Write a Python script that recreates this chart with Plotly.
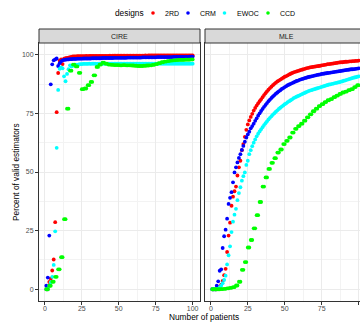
import plotly.graph_objects as go

W, H = 360, 322

patients = list(range(1, 101))
designs = ["2RD", "CRM", "EWOC", "CCD"]
colors = ["#FF0000", "#0000FF", "#00FFFF", "#00FF00"]

# ---- CIRE panel ----
cire_2rd = [0, 0, 3.1, 4.5, 8.0, 12.7, 28.6, 75.5, 92.2, 97.5,
            98.0, 96.0, 98.3, 98.5, 98.6, 98.8, 99.0, 99.1, 99.3, 99.3,
            99.3, 99.4, 99.4, 99.4, 99.4, 99.4, 99.4, 99.5, 99.4, 99.5,
            99.5, 99.5, 99.5, 99.5, 99.5, 99.5, 99.5, 99.5, 99.5, 99.5,
            99.5, 99.5, 99.5, 99.6, 99.5, 99.6, 99.6, 99.6, 99.6, 99.6,
            99.6, 99.6, 99.6, 99.6, 99.6, 99.6, 99.6, 99.6, 99.6, 99.6,
            99.6, 99.6, 99.6, 99.6, 99.6, 99.6, 99.6, 99.7, 99.6, 99.7,
            99.7, 99.7, 99.7, 99.7, 99.7, 99.7, 99.7, 99.7, 99.7, 99.7,
            99.7, 99.7, 99.7, 99.7, 99.7, 99.7, 99.7, 99.7, 99.7, 99.7,
            99.7, 99.7, 99.7, 99.7, 99.7, 99.7, 99.7, 99.7, 99.7, 99.7]
cire_crm = [1.5, 5.0, 22.9, 87.4, 95.9, 97.6, 98.0, 98.4, 95.2, 96.4,
            97.2, 97.6, 97.8, 97.9, 98.0, 98.0, 98.1, 98.1, 98.2, 98.2,
            98.2, 98.3, 98.3, 98.3, 98.3, 98.4, 98.4, 98.4, 98.4, 98.4,
            98.4, 98.5, 98.5, 98.5, 98.5, 98.5, 98.5, 98.5, 98.6, 98.6,
            98.6, 98.6, 98.6, 98.6, 98.6, 98.6, 98.7, 98.7, 98.7, 98.7,
            98.7, 98.7, 98.7, 98.7, 98.7, 98.8, 98.8, 98.8, 98.8, 98.8,
            98.8, 98.8, 98.8, 98.8, 98.8, 98.9, 98.9, 98.9, 98.9, 98.9,
            98.9, 98.9, 98.9, 98.9, 98.9, 99.0, 99.0, 99.0, 99.0, 99.0,
            99.0, 99.0, 99.0, 99.0, 99.0, 99.0, 99.1, 99.1, 99.1, 99.1,
            99.1, 99.1, 99.1, 99.1, 99.1, 99.1, 99.1, 99.2, 99.2, 99.2]
cire_ewoc = [0, 0, 1.5, 3.0, 5.3, 10.4, 24.7, 60.3, 85.0, 94.0,
             94.6, 94.2, 90.8, 88.7, 91.8, 93.8, 95.5, 95.0, 95.3, 95.6,
             95.8, 95.7, 95.9, 96.0, 96.0, 96.1, 96.1, 96.1, 96.1, 96.2,
             96.1, 96.2, 96.2, 96.2, 96.1, 96.2, 96.2, 96.2, 96.2, 96.2,
             96.2, 96.2, 96.2, 96.2, 96.2, 96.2, 96.2, 96.2, 96.2, 96.2,
             96.2, 96.2, 96.2, 96.2, 96.2, 96.2, 96.2, 96.2, 96.2, 96.2,
             96.2, 96.2, 96.2, 96.2, 96.2, 96.2, 96.2, 96.2, 96.2, 96.2,
             96.2, 96.2, 96.2, 96.2, 96.2, 96.2, 96.2, 96.2, 96.2, 96.2,
             96.2, 96.2, 96.2, 96.2, 96.2, 96.2, 96.2, 96.2, 96.2, 96.2,
             96.2, 96.2, 96.2, 96.2, 96.2, 96.2, 96.2, 96.2, 96.2, 96.2]
cire_ccd = [0, 0, 1.5, 1.5, 3.2, 3.2, 5.3, 5.3, 8.5, 8.5,
            13.7, 13.7, 29.9, 29.9, 77.0, 77.0, 93.2, 93.2, 95.8, 95.8,
            95.0, 95.0, 92.3, 92.3, 85.3, 85.3, 85.6, 85.6, 87.0, 87.0,
            88.4, 88.4, 91.2, 91.2, 94.8, 94.8, 95.8, 95.8, 96.6, 96.6,
            96.2, 96.2, 95.8, 95.8, 95.7, 95.7, 95.6, 95.6, 95.6, 95.6,
            95.5, 95.5, 95.6, 95.6, 95.5, 95.5, 95.5, 95.5, 95.4, 95.4,
            95.3, 95.3, 95.2, 95.2, 95.2, 95.2, 95.3, 95.3, 95.4, 95.4,
            95.5, 95.5, 95.7, 95.7, 96.0, 96.0, 96.4, 96.4, 96.8, 96.8,
            97.1, 97.1, 97.3, 97.3, 97.5, 97.5, 97.6, 97.6, 97.7, 97.7,
            97.8, 97.8, 97.8, 97.8, 97.9, 97.9, 97.9, 97.9, 98.0, 98.0]

# ---- MLE panel ----
mle_2rd = [0, 0, 0, 0, 0.4, 1.0, 2.0, 3.6, 6.0, 8.7,
           15.9, 22.9, 28.4, 35.6, 39.5, 41.8, 43.8, 48.5, 52.0, 54.8,
           59.3, 61.9, 65.0, 68.0, 70.3, 72.0, 73.5, 74.8, 76.2, 77.3,
           78.3, 79.3, 80.2, 81.0, 81.9, 82.8, 83.6, 84.4, 85.1, 85.8,
           86.4, 87.0, 87.6, 88.1, 88.6, 89.0, 89.4, 89.8, 90.2, 90.6,
           90.9, 91.2, 91.6, 91.9, 92.2, 92.5, 92.7, 92.9, 93.1, 93.3,
           93.5, 93.7, 93.9, 94.1, 94.3, 94.4, 94.6, 94.7, 94.8, 94.9,
           95.0, 95.1, 95.2, 95.3, 95.5, 95.6, 95.7, 95.8, 96.0, 96.0,
           96.1, 96.2, 96.3, 96.4, 96.5, 96.6, 96.7, 96.8, 96.8, 96.9,
           97.0, 97.0, 97.1, 97.2, 97.2, 97.3, 97.3, 97.4, 97.4, 97.5]
mle_crm = [0, 0, 0, 1.5, 3.4, 7.9, 8.5, 17.6, 22.6, 25.4,
           30.1, 36.4, 39.0, 41.4, 45.6, 49.8, 52.0, 54.1, 56.0, 57.6,
           59.4, 61.1, 62.9, 64.7, 66.0, 67.2, 68.6, 69.6, 70.6, 71.8,
           72.9, 74.0, 75.0, 76.0, 76.9, 77.8, 78.6, 79.4, 80.2, 80.9,
           81.6, 82.2, 82.8, 83.4, 83.9, 84.4, 84.9, 85.4, 85.8, 86.2,
           86.6, 87.0, 87.3, 87.6, 87.9, 88.2, 88.5, 88.8, 89.0, 89.3,
           89.5, 89.7, 89.9, 90.1, 90.3, 90.5, 90.6, 90.8, 90.9, 91.1,
           91.2, 91.4, 91.5, 91.6, 91.8, 91.9, 92.0, 92.1, 92.2, 92.3,
           92.4, 92.5, 92.6, 92.7, 92.8, 92.9, 93.0, 93.1, 93.2, 93.3,
           93.4, 93.5, 93.6, 93.7, 93.8, 93.8, 93.9, 94.0, 94.1, 94.2]
mle_ewoc = [0, 0, 0, 0, 0.3, 0.8, 1.5, 2.6, 4.0, 5.8,
            10.6, 14.5, 18.3, 24.4, 28.8, 31.8, 34.3, 38.0, 41.0, 43.5,
            46.3, 48.2, 49.8, 53.0, 54.8, 57.6, 59.3, 61.0, 62.5, 63.9,
            65.2, 66.3, 67.3, 68.2, 69.1, 70.0, 70.8, 71.6, 72.4, 73.1,
            73.8, 74.5, 75.1, 75.7, 76.3, 76.9, 77.4, 77.9, 78.4, 78.9,
            79.3, 79.8, 80.2, 80.6, 81.0, 81.5, 81.8, 82.1, 82.4, 82.7,
            83.0, 83.3, 83.6, 83.9, 84.2, 84.5, 84.7, 84.9, 85.1, 85.3,
            85.5, 85.7, 85.9, 86.1, 86.3, 86.5, 86.7, 86.9, 87.1, 87.3,
            87.4, 87.6, 87.7, 87.9, 88.0, 88.2, 88.3, 88.5, 88.7, 88.9,
            89.1, 89.3, 89.5, 89.7, 89.9, 90.1, 90.3, 90.4, 90.6, 90.8]
mle_ccd = [0, 0, 0, 0, 0, 0, 0.1, 0.1, 0.2, 0.2,
           0.4, 0.4, 0.6, 0.6, 0.9, 0.9, 1.6, 1.6, 3.2, 3.2,
           8.3, 8.3, 11.6, 11.6, 17.8, 17.8, 21.0, 21.0, 26.0, 26.0,
           31.6, 31.6, 37.2, 37.2, 43.8, 43.8, 47.7, 47.7, 51.3, 51.3,
           53.9, 53.9, 55.9, 55.9, 58.3, 58.3, 59.6, 59.6, 61.9, 61.9,
           63.3, 63.3, 64.7, 64.7, 66.8, 66.8, 68.4, 68.4, 69.6, 69.6,
           70.6, 70.6, 71.9, 71.9, 73.3, 73.3, 74.6, 74.6, 75.9, 75.9,
           77.0, 77.0, 78.1, 78.1, 78.9, 78.9, 79.8, 79.8, 80.6, 80.6,
           81.1, 81.1, 81.9, 81.9, 82.6, 82.6, 83.3, 83.3, 83.9, 83.9,
           84.3, 84.3, 84.9, 84.9, 85.3, 85.3, 86.2, 86.2, 87.0, 87.0]

panels = ["CIRE", "MLE"]
panel_data = {
    "CIRE": [cire_2rd, cire_crm, cire_ewoc, cire_ccd],
    "MLE": [mle_2rd, mle_crm, mle_ewoc, mle_ccd],
}
x_ticks = [0, 25, 50, 75, 100]
y_ticks = [0, 25, 50, 75, 100]

FONT = "Liberation Sans, Arial, sans-serif"
px = lambda v: v / W
py = lambda v: 1 - v / H

fig = go.Figure()
for pi, panel in enumerate(panels):
    xa = "x" if pi == 0 else "x2"
    ya = "y" if pi == 0 else "y2"
    for d, c, vals in zip(designs, colors, panel_data[panel]):
        fig.add_trace(go.Scatter(
            x=patients, y=vals, mode="markers", name=d,
            legendgroup=d, showlegend=False,
            marker=dict(color=c, size=3.8, line=dict(width=0)),
            xaxis=xa, yaxis=ya, cliponaxis=False))

L0, L1 = 39, 200
R0, R1 = 205, 360
T, B = 43, 301

axis_common = dict(
    showgrid=True, gridcolor="#EBEBEB", gridwidth=1,
    minor=dict(showgrid=True, gridcolor="#F3F3F3", gridwidth=0.6, ticks=""),
    zeroline=False, ticks="outside", ticklen=3, tickwidth=1,
    tickcolor="#333333", tickfont=dict(family=FONT, size=7, color="#4D4D4D"),
    showline=True, linecolor="#333333", linewidth=1,
)

fig.update_layout(
    width=W, height=H, margin=dict(l=0, r=0, t=0, b=0),
    paper_bgcolor="white", plot_bgcolor="white",
    font=dict(family=FONT, color="#000000"),
    showlegend=False,
    xaxis=dict(axis_common, domain=[px(L0), px(L1)], range=[-3.95, 104.95],
               tickvals=x_ticks, mirror=True, anchor="y", automargin=False,
               ticklabelstandoff=-2),
    xaxis2=dict(axis_common, domain=[px(R0), 1.0], range=[-3.95, 100.9],
                tickvals=x_ticks, mirror=True, anchor="y2", automargin=False,
                ticklabelstandoff=-2),
    yaxis=dict(axis_common, domain=[py(B), py(T)], range=[-5, 105],
               tickvals=y_ticks, mirror=True, anchor="x", automargin=False),
    yaxis2=dict(axis_common, domain=[py(B), py(T)], range=[-5, 105],
                tickvals=y_ticks, showticklabels=False, ticks="",
                mirror=False, anchor="x2", matches="y", automargin=False),
)
fig.update_layout(xaxis_minor_dtick=12.5, xaxis_minor_tick0=12.5,
                  xaxis2_minor_dtick=12.5, xaxis2_minor_tick0=12.5,
                  yaxis_minor_dtick=12.5, yaxis_minor_tick0=12.5,
                  yaxis2_minor_dtick=12.5, yaxis2_minor_tick0=12.5)

shapes = []
annotations = []
# strips
strip_spans = [(L0, L1), (R0, R1 + 5)]
strip_centers = [(L0 + L1) / 2, (R0 + 368) / 2]
for (a, b), cx, lab in zip(strip_spans, strip_centers, panels):
    shapes.append(dict(type="rect", xref="paper", yref="paper",
                       x0=px(a), x1=px(b), y0=py(T), y1=py(29),
                       fillcolor="#D9D9D9", line=dict(color="#333333", width=1),
                       layer="above"))
    annotations.append(dict(text=lab, xref="paper", yref="paper",
                            x=px(cx), y=py(36), showarrow=False,
                            font=dict(family=FONT, size=7, color="#1A1A1A"),
                            xanchor="center", yanchor="middle"))

# axis titles
annotations.append(dict(text="Number of patients", xref="paper", yref="paper",
                        x=px(204), y=py(317), showarrow=False,
                        font=dict(family=FONT, size=8.3, color="#000000"),
                        xanchor="center", yanchor="middle"))
annotations.append(dict(text="Percent of valid estimators", xref="paper", yref="paper",
                        x=px(16), y=py(172), showarrow=False, textangle=-90,
                        font=dict(family=FONT, size=8.3, color="#000000"),
                        xanchor="center", yanchor="middle"))

# legend (drawn manually to match ggplot spacing)
annotations.append(dict(text="designs", xref="paper", yref="paper",
                        x=px(113), y=py(13), showarrow=False,
                        font=dict(family=FONT, size=8.3, color="#000000"),
                        xanchor="left", yanchor="middle"))
leg_dots = [153, 188, 224.5, 268]
for d, c, xd in zip(designs, colors, leg_dots):
    r = 1.8
    shapes.append(dict(type="circle", xref="paper", yref="paper",
                       x0=px(xd - r), x1=px(xd + r), y0=py(13 + r), y1=py(13 - r),
                       fillcolor=c, line=dict(width=0)))
    annotations.append(dict(text=d, xref="paper", yref="paper",
                            x=px(xd + 10), y=py(13), showarrow=False,
                            font=dict(family=FONT, size=7, color="#000000"),
                            xanchor="left", yanchor="middle"))

fig.update_layout(shapes=shapes, annotations=annotations)
fig.write_html("out.html", config={"displayModeBar": False},
               post_script="document.body.style.margin='0';document.body.style.overflow='hidden';")
